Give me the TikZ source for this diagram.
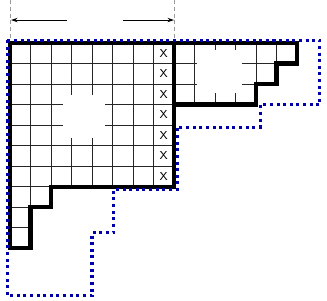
\documentclass[tikz,border=0pt]{standalone}
\usepackage{xcolor}
\usepackage{tikz}
\usetikzlibrary{positioning, arrows.meta, calc}
\definecolor{dotblue}{HTML}{0000AA}
\definecolor{guidegray}{HTML}{9A9A9A}

\tikzset{
  cell/.style={draw=black!85, line width=0.5pt},
  outline/.style={draw=black, line width=2.8pt, line join=miter},
  bound/.style={draw=dotblue, line width=2.1pt, dash pattern=on 2.1pt off 2.5pt},
  guide/.style={draw=guidegray, line width=0.7pt, dash pattern=on 2.8pt off 1.9pt},
  xmark/.style={font=\sffamily\footnotesize, inner sep=0pt}
}

\begin{document}
\begin{tikzpicture}[x=0.5cm, y=-0.5cm]
    \useasboundingbox (-0.488,-2.098) rectangle (15.463,12.537);

    % width guides
    \draw[guide] (0,-2.1) -- (0,-0.15);
    \draw[guide] (8,-2.1) -- (8,0);
    \coordinate (wleft)  at (0.05,-1.12);
    \coordinate (wright) at (8,-1.12);
    \coordinate (gapL)   at (2.78,-1.12);
    \coordinate (gapR)   at (5.51,-1.12);
    \draw[line width=0.6pt, -{Stealth[length=4.5pt, width=3pt]}] (gapL) -- (wleft);
    \draw[line width=0.6pt, -{Stealth[length=4.5pt, width=3pt]}] (gapR) -- (wright);

    % cells
    \foreach \r/\n in {0/8,1/8,2/8,3/8,4/8,5/8,6/8,7/2,8/1,9/1}
      \foreach \c in {1,...,\n}
        \draw[cell] (\c-1,\r) rectangle ++(1,1);
    \foreach \r/\n in {0/6,1/5,2/4}
      \foreach \c in {1,...,\n}
        \draw[cell] (\c+7,\r) rectangle ++(1,1);

    % blank patches
    \fill[white] (2.59,2.54) rectangle (4.63,4.63);
    \fill[white] (9.1,0.34) rectangle (11.3,2.44);

    \foreach \r in {0,...,6}
      \node[xmark] (x\r) at (7.5,\r+0.5) {X};

    % shapes
    \draw[outline] (0,0) -- (8,0) -- (8,7) -- (2,7) -- (2,8) -- (1,8)
      -- (1,10) -- (0,10) -- cycle;
    \draw[outline] (8,0) -- (14,0) -- (14,1) -- (13,1) -- (13,2) -- (12,2)
      -- (12,3) -- (8,3) -- cycle;
    \draw[bound] (-0.13,-0.13) -- (15.12,-0.13) -- (15.12,3.02) -- (12.2,3.02)
      -- (12.2,4.1) -- (8.15,4.1) -- (8.15,7.15) -- (5.05,7.15) -- (5.05,9.25)
      -- (4.0,9.25) -- (4.0,12.33) -- (-0.13,12.33) -- cycle;
  \end{tikzpicture}
\end{document}
